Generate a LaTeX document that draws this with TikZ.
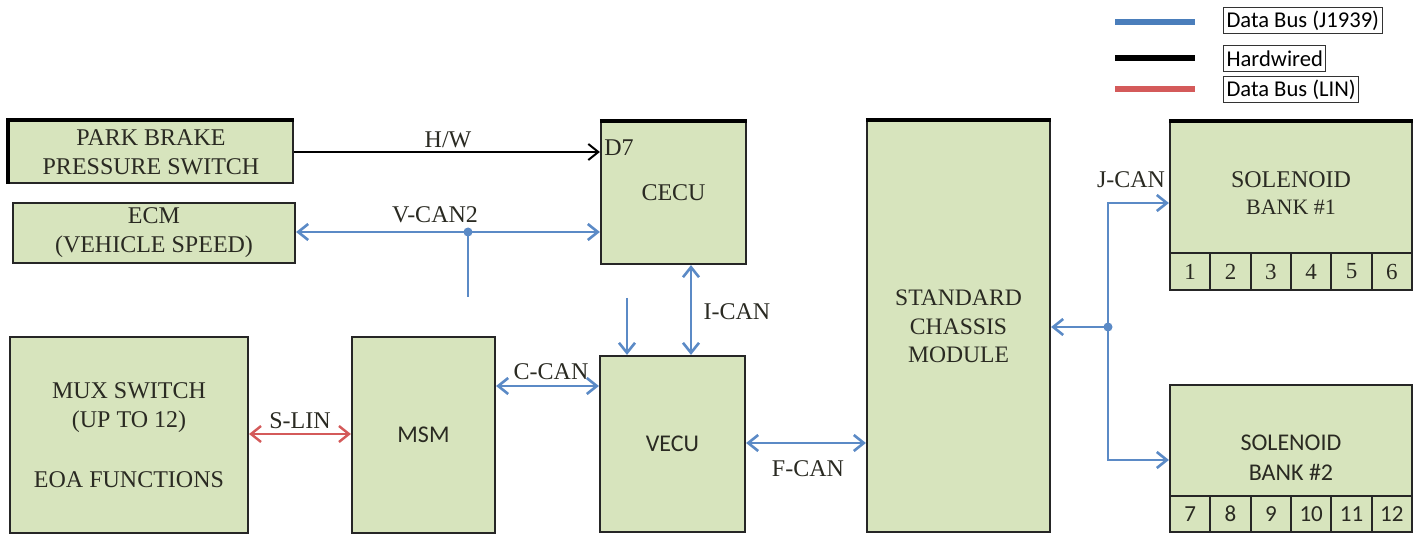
\documentclass[tikz,border=0pt]{standalone}
\usepackage{fontspec}
\setmainfont{Liberation Serif}
\newfontfamily\calfont{Carlito}
\usetikzlibrary{arrows.meta}
\definecolor{boxfill}{HTML}{D7E4BD}
\definecolor{canblue}{HTML}{5B8AC6}
\definecolor{linred}{HTML}{D45A5A}
\definecolor{legblue}{HTML}{4A7EBB}
\definecolor{inktext}{HTML}{2A2A22}
\begin{document}
\begin{tikzpicture}[x=0.5pt,y=-0.5pt,
  >={Straight Barb[length=5pt,width=8pt]},
  box/.style={draw=black!85, line width=1.1pt, fill=boxfill, inner sep=0pt, align=center,
    text=inktext, font=\fontsize{12}{14.5}\selectfont},
  sbox/.style={box, font=\calfont\fontsize{12}{14.5}\selectfont},
  cell/.style={draw=black!85, line width=0.9pt, fill=boxfill, inner sep=0pt,
    minimum width=20.17pt, text=inktext, font=\fontsize{11.5}{13}\selectfont},
  scell/.style={cell, font=\calfont\fontsize{11.5}{13}\selectfont},
  lbl/.style={font=\fontsize{12}{14}\selectfont, text=inktext, inner sep=1pt},
  boxtext/.style={align=center, text=inktext, inner sep=0pt},
  can/.style={draw=canblue, line width=1.3pt},
  lin/.style={draw=linred, line width=1.2pt},
  hw/.style={draw=black, line width=1pt},
  topedge/.style={draw=black, line width=2pt},
  dot/.style={circle, fill=canblue, inner sep=0pt, minimum size=4.5pt},
  legline/.style={line width=2.6pt},
  legtext/.style={draw=black!80, line width=0.5pt, anchor=west, inner sep=1.5pt,
    minimum height=13pt, text=black, font=\calfont\fontsize{11.3}{13}\selectfont}
]
\useasboundingbox (0,0) rectangle (1421,535);

% ---------- legend ----------
\node[legtext] (lg1) at (1223,20.5) {Data Bus (J1939)};
\node[legtext] (lg2) at (1223,58.5) {Hardwired};
\node[legtext] (lg3) at (1223,90) {Data Bus (LIN)};
\coordinate (lb1s) at (1115,22); \coordinate (lb1e) at (1195,22);
\coordinate (lb2s) at (1115,58); \coordinate (lb2e) at (1195,58);
\coordinate (lb3s) at (1115,89); \coordinate (lb3e) at (1195,89);
\draw[legline, draw=legblue] (lb1s) -- (lb1e);
\draw[legline, draw=black] (lb2s) -- (lb2e);
\draw[legline, draw=linred] (lb3s) -- (lb3e);

% ---------- boxes ----------
\node[box, minimum width=142pt, minimum height=31pt] (pb) at (151,152)
  {PARK BRAKE\\PRESSURE SWITCH};
\draw[topedge] (pb.south west) -- (pb.north west) -- (pb.north east);
\node[box, minimum width=141pt, minimum height=30pt] (ecm) at (154,233)
  {ECM\\(VEHICLE SPEED)};
\node[box, minimum width=72.5pt, minimum height=71pt] (cecu) at (673.5,193) {CECU};
\draw[topedge] (cecu.north west) -- (cecu.north east);
\node[lbl, anchor=west, inner sep=0pt] (d7) at (604,148) {D7};
\node[box, minimum width=119pt, minimum height=98pt] (mux) at (129,435)
  {MUX SWITCH\\(UP TO 12)\\[15.5pt]EOA FUNCTIONS};
\node[sbox, minimum width=71.5pt, minimum height=98pt] (msm) at (423.5,435) {MSM};
\node[sbox, minimum width=72.5pt, minimum height=88pt] (vecu) at (672.5,444) {VECU};
\node[box, minimum width=91.5pt, minimum height=205.5pt,
  font=\fontsize{11.8}{14.3}\selectfont] (scm) at (958.5,326.5)
  {STANDARD\\CHASSIS\\MODULE};
\draw[topedge] (scm.north west) -- (scm.north east);

% solenoid bank 1
\node[box, minimum width=121pt, minimum height=84pt] (b1) at (1291,206) {};
\draw[topedge] (b1.north west) -- (b1.north east);
\node[boxtext, font=\fontsize{12}{13.5}\selectfont] (b1t) at (1291,193)
  {SOLENOID\\{\fontsize{11}{13.5}\selectfont BANK \#1}};
\foreach \i in {1,...,6}
  \node[cell, minimum height=18.5pt] (c\i) at ({1170+(\i-0.5)*40.333},271.5) {\i};

% solenoid bank 2
\node[box, minimum width=121pt, minimum height=73.5pt] (b2) at (1291,458.5) {};
\node[boxtext, font=\calfont\fontsize{12}{15}\selectfont] (b2t) at (1291,458)
  {SOLENOID\\BANK \#2};
\foreach \i/\n in {1/7,2/8,3/9,4/10,5/11,6/12}
  \node[scell, minimum height=18pt] (d\n) at ({1170+(\i-0.5)*40.333},514) {\n};

% ---------- connectors ----------
% H/W
\draw[hw,->] (pb.east) -- (pb.east -| cecu.west);
\node[lbl] (lhw) at (448,140) {H/W};

% V-CAN2
\coordinate (vy) at (450,232);
\draw[can,<->] (vy -| ecm.east) -- (vy -| cecu.west);
\node[dot] (vj) at (468,232) {};
\coordinate (vfree) at (468,297);
\draw[can] (vj.center) -- (vfree);
\node[lbl] (lvcan) at (435,215) {V-CAN2};

% down arrow into VECU
\coordinate (vin) at (627,298);
\draw[can,->] (vin) -- (vin |- vecu.north);

% I-CAN
\coordinate (ic) at (691,310);
\draw[can,<->] (ic |- cecu.south) -- (ic |- vecu.north);
\node[lbl] (lican) at (737,312) {I-CAN};

% C-CAN
\coordinate (cc) at (550,386);
\draw[can,<->] (cc -| msm.east) -- (cc -| vecu.west);
\node[lbl] (lccan) at (551,372) {C-CAN};

% S-LIN
\coordinate (sl) at (300,434);
\draw[lin,<->] (sl -| mux.east) -- (sl -| msm.west);
\node[lbl] (lslin) at (300,421) {S-LIN};

% F-CAN
\coordinate (fc) at (800,443);
\draw[can,<->] (fc -| vecu.east) -- (fc -| scm.west);
\node[lbl] (lfcan) at (808,469) {F-CAN};

% J-CAN
\coordinate (jt) at (1108,203);
\coordinate (jb) at (1108,460);
\draw[can,<->] (jt -| b1.west) -- (jt) -- (jb) -- (jb -| b2.west);
\node[dot] (jj) at (1108,327) {};
\draw[can,->] (jj.center) -- (jj.center -| scm.east);
\node[lbl] (ljcan) at (1131,180) {J-CAN};
\end{tikzpicture}
\end{document}
